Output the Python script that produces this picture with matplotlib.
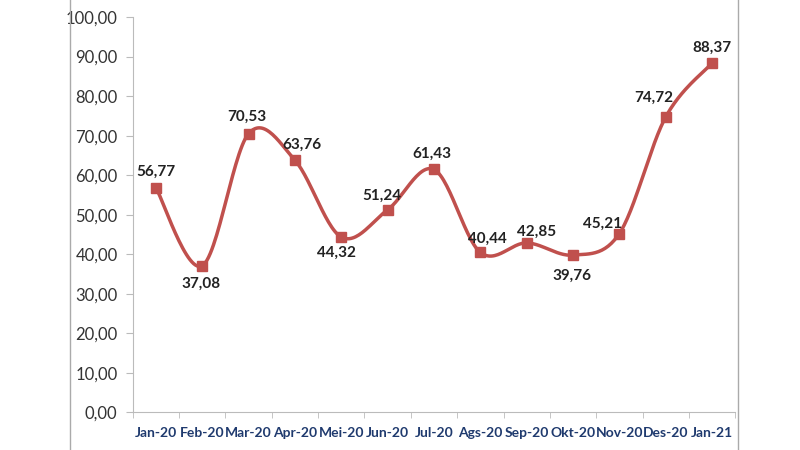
import matplotlib.pyplot as plt
from matplotlib.patches import Rectangle
import numpy as np

plt.rcParams['font.family'] = ['Lato', 'DejaVu Sans']

bulan = ['Jan-20', 'Feb-20', 'Mar-20', 'Apr-20', 'Mei-20', 'Jun-20', 'Jul-20',
         'Ags-20', 'Sep-20', 'Okt-20', 'Nov-20', 'Des-20', 'Jan-21']
nilai = [56.77, 37.08, 70.53, 63.76, 44.32, 51.24, 61.43,
         40.44, 42.85, 39.76, 45.21, 74.72, 88.37]
# label offset (pixels) relative to the point
posisi = [(0, 16), (-1, -18), (-2, 17), (7, 15), (-5, -16), (-6, 14), (-2, 16),
          (7, 14), (10, 11), (-1, -21), (-17, 10), (-12, 19), (0, 15)]


def smooth(x, y, n=30):
    # catmull-rom like excel smoothed line
    x = np.asarray(x, float)
    y = np.asarray(y, float)
    px = np.concatenate([[x[0]], x, [x[-1]]])
    py = np.concatenate([[y[0]], y, [y[-1]]])
    xs, ys = [], []
    t = np.linspace(0, 1, n)
    for i in range(1, len(px) - 2):
        for arr, out in ((px, xs), (py, ys)):
            p0, p1, p2, p3 = arr[i - 1], arr[i], arr[i + 1], arr[i + 2]
            out.extend(0.5 * ((2 * p1) + (-p0 + p2) * t
                              + (2 * p0 - 5 * p1 + 4 * p2 - p3) * t ** 2
                              + (-p0 + 3 * p1 - 3 * p2 + p3) * t ** 3))
    return xs, ys


fig = plt.figure(figsize=(8, 4.5), dpi=100)
ax = fig.add_axes([0.166, 0.084, 0.753, 0.878])

x = np.arange(len(bulan))
sx, sy = smooth(x, nilai)
merah = '#C0504D'
ax.plot(sx, sy, color=merah, lw=2.5, solid_capstyle='round')
ax.plot(x, nilai, ls='none', marker='s', ms=7.5, color=merah)

for xi, v, (dx, dy) in zip(x, nilai, posisi):
    ax.annotate(('%.2f' % v).replace('.', ','), (xi, v),
                xytext=(dx * 0.72, dy * 0.72),
                textcoords='offset points', ha='center', va='center',
                fontsize=11, fontweight='bold', color='#222222')

ax.set_xlim(-0.5, len(bulan) - 0.5)
ax.set_ylim(0, 100)
ax.set_yticks(np.arange(0, 101, 10))
ax.set_yticklabels([('%.2f' % v).replace('.', ',') for v in np.arange(0, 101, 10)],
                   fontsize=12, color='#333333')
ax.set_xticks(x)
ax.set_xticklabels(bulan, fontsize=10, fontweight='bold', color='#1F3A6E')
ax.set_xticks(np.arange(-0.5, len(bulan), 1), minor=True)
ax.tick_params(axis='x', which='major', length=0, pad=11)
ax.tick_params(axis='x', which='minor', length=4, color='#BBBBBB')
ax.tick_params(axis='y', length=5, color='#BBBBBB', pad=6)
for s in ['top', 'right']:
    ax.spines[s].set_visible(False)
for s in ['left', 'bottom']:
    ax.spines[s].set_color('#BBBBBB')

fig.patches.append(Rectangle((70 / 800, -0.05), (738 - 70) / 800, 1.1,
                             transform=fig.transFigure, fill=False,
                             edgecolor='#AAAAAA', lw=1))

fig.savefig('out.png', dpi=100)
